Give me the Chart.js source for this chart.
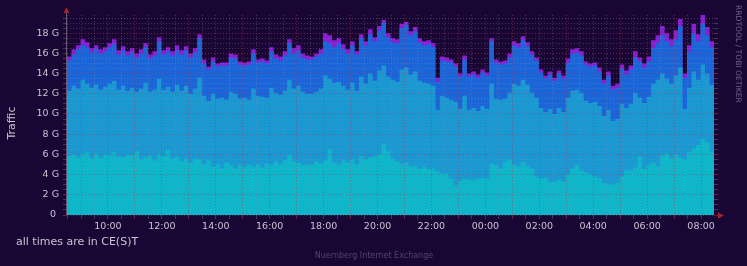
<!DOCTYPE html>
<html>
<head>
<meta charset="utf-8">
<script src="https://cdn.jsdelivr.net/npm/chart.js@4/dist/chart.umd.min.js"></script>
<style>
  html, body { margin: 0; padding: 0; background: #1a0634; }
  canvas { display: block; }
</style>
</head>
<body>
<canvas id="traffic" width="747" height="266"></canvas>
<script>
// time axis in hours (08:29 -> 08:29 next day), one value per 10 minutes
const startHour = 8.48
const endHour = 32.48
const stepHours = 1 / 6

// layer tops in G, 6 values per hour row, first row starts at 08:30
const cyanTop = [
  5.8, 6.0, 5.7, 6.1, 6.2, 5.6,
  6.1, 5.6, 6.0, 5.9, 6.2, 5.8,
  5.7, 6.0, 5.9, 6.3, 5.5, 5.7,
  5.9, 5.4, 6.0, 5.8, 6.4, 5.6,
  5.8, 5.3, 5.6, 5.2, 5.6, 5.5,
  5.0, 5.4, 4.8, 5.0, 4.6, 5.2,
  4.9, 4.6, 5.0, 4.7, 5.0, 4.8,
  5.0, 4.7, 5.1, 4.9, 5.3, 5.0,
  5.4, 6.0, 5.3, 5.2, 4.9, 5.0,
  5.0, 5.3, 5.1, 5.4, 6.5, 5.2,
  5.0, 5.4, 5.2, 5.5, 5.0, 5.8,
  5.5, 5.7, 5.8, 6.0, 7.0, 6.3,
  5.6, 5.3, 5.0, 5.2, 4.8, 4.9,
  4.6, 4.8, 4.5, 4.6, 4.3, 4.1,
  4.1, 3.6, 2.9, 3.4, 3.6, 3.5,
  3.4, 3.6, 3.7, 3.6, 5.1, 4.9,
  4.6, 5.3, 5.5, 5.0, 4.8, 5.2,
  4.8, 4.6, 3.8, 3.6, 3.7, 3.3,
  3.3, 3.5, 3.3, 4.0, 4.6, 4.9,
  4.4, 4.2, 4.0, 3.8, 3.7, 3.2,
  3.1, 3.0, 3.2, 3.8, 4.4, 4.4,
  4.7, 5.8, 4.5, 5.0, 5.2, 4.8,
  5.9, 6.1, 5.6, 6.0, 5.7, 5.5,
  6.2, 6.6, 6.9, 7.5, 7.2, 6.3
]

const skyTop = [
  12.3, 12.8, 12.5, 13.4, 13.0, 12.6,
  12.9, 12.4, 12.7, 13.0, 13.3, 12.4,
  12.8, 12.3, 12.6, 12.2, 12.5, 13.1,
  12.2, 12.4, 13.5, 12.4, 12.7, 12.2,
  12.9, 12.3, 12.8, 12.0, 12.5, 13.6,
  11.8, 11.3, 12.0, 11.5, 11.6, 11.4,
  12.2, 12.0, 11.5, 11.6, 11.4, 12.5,
  11.8, 11.7, 11.6, 12.6, 12.1, 11.9,
  12.3, 13.4, 12.5, 12.8, 12.2, 12.0,
  12.0, 12.2, 12.5, 13.8, 13.5, 13.1,
  13.2, 12.8, 12.4, 13.1, 12.3, 13.7,
  13.0, 14.0, 13.3, 14.3, 14.8, 13.7,
  13.4, 13.2, 14.4, 14.6, 13.9, 14.2,
  13.3, 13.1, 13.0, 12.8, 10.4, 11.8,
  11.6, 11.4, 11.2, 10.5, 11.8, 10.4,
  10.6, 10.3, 10.8, 10.5, 13.0, 11.5,
  11.4, 11.5, 12.1, 13.0, 12.8, 13.4,
  12.9, 12.1, 11.6, 10.6, 10.2, 10.5,
  10.0, 10.6, 10.2, 11.6, 12.3, 12.4,
  12.1, 11.3, 11.1, 11.2, 10.8, 9.8,
  10.4, 9.3, 9.5, 11.0, 10.6, 11.0,
  12.1, 11.6, 11.1, 11.7, 13.0, 13.4,
  14.0, 13.5, 13.0, 13.8, 14.6, 10.5,
  12.6, 14.2, 13.4, 14.9, 14.0, 12.9
]

const blueTop = [
  15.3, 15.9, 16.4, 16.8, 16.6, 16.1,
  16.4, 16.0, 16.2, 16.6, 16.9, 15.9,
  16.3, 15.8, 16.1, 15.6, 16.0, 16.6,
  15.5, 15.8, 17.2, 15.9, 16.2, 15.8,
  16.3, 15.9, 16.3, 15.6, 16.1, 17.5,
  15.0, 14.4, 15.2, 14.7, 14.8, 14.8,
  15.6, 15.5, 14.9, 14.8, 14.9, 16.0,
  15.1, 15.2, 15.0, 16.2, 15.5, 15.3,
  15.8, 17.0, 16.0, 16.3, 15.6, 15.4,
  15.4, 15.7, 16.0, 17.2, 17.0, 16.6,
  17.0, 16.4, 16.0, 16.8, 15.9, 17.5,
  16.8, 17.9, 17.2, 18.3, 19.0, 17.6,
  17.1, 17.0, 18.5, 18.8, 17.8, 18.2,
  17.1, 16.8, 16.9, 16.6, 13.2, 15.3,
  15.2, 15.1, 14.7, 13.7, 15.4, 13.7,
  13.9, 13.6, 14.1, 13.8, 17.2, 15.1,
  14.9, 15.0, 15.6, 16.8, 16.6, 17.3,
  16.7, 15.9, 15.3, 14.1, 13.5, 13.9,
  13.3, 14.0, 13.5, 15.1, 16.0, 16.1,
  15.8, 14.9, 14.7, 14.8, 14.2, 13.0,
  13.8, 12.4, 12.6, 14.5, 13.9, 14.4,
  15.6, 15.2, 14.6, 15.2, 16.5, 17.0,
  17.8, 17.2, 16.7, 17.4, 18.7, 13.6,
  16.2, 18.0, 17.2, 18.9, 17.8, 16.6
]

const totalTop = [
  15.7, 16.4, 16.8, 17.4, 17.1, 16.5,
  16.8, 16.4, 16.6, 17.0, 17.4, 16.3,
  16.7, 16.2, 16.5, 16.0, 16.4, 17.0,
  15.9, 16.2, 17.6, 16.3, 16.6, 16.2,
  16.8, 16.3, 16.7, 16.0, 16.5, 17.9,
  15.4, 14.7, 15.6, 15.0, 15.1, 15.1,
  16.0, 15.9, 15.2, 15.1, 15.2, 16.4,
  15.4, 15.5, 15.3, 16.6, 15.9, 15.7,
  16.2, 17.4, 16.5, 16.8, 16.0, 15.8,
  15.7, 16.0, 16.4, 18.0, 17.8, 17.3,
  17.5, 16.9, 16.4, 17.2, 16.2, 17.9,
  17.2, 18.4, 17.6, 18.7, 19.3, 18.0,
  17.5, 17.4, 18.9, 19.1, 18.2, 18.6,
  17.5, 17.2, 17.3, 17.0, 13.6, 15.7,
  15.6, 15.4, 15.0, 14.0, 15.8, 14.0,
  14.2, 13.9, 14.4, 14.1, 17.5, 15.4,
  15.2, 15.3, 16.0, 17.2, 17.0, 17.7,
  17.1, 16.2, 15.6, 14.4, 13.8, 14.2,
  13.6, 14.3, 13.8, 15.5, 16.4, 16.5,
  16.2, 15.2, 15.0, 15.1, 14.6, 13.4,
  14.2, 12.8, 13.0, 14.9, 14.3, 14.8,
  16.2, 15.6, 15.0, 15.7, 17.3, 17.8,
  18.7, 18.0, 17.4, 18.3, 19.4, 14.0,
  16.8, 18.9, 17.9, 19.8, 18.6, 17.2
]

// tick labels
const timeTickHours = [10, 12, 14, 16, 18, 20, 22, 24, 26, 28, 30, 32]
const timeTickLabels = ['10:00', '12:00', '14:00', '16:00', '18:00', '20:00',
                        '22:00', '00:00', '02:00', '04:00', '06:00', '08:00']
const trafficTickValues = [0, 2, 4, 6, 8, 10, 12, 14, 16, 18]
const trafficTickLabels = ['0 ', '2 G', '4 G', '6 G', '8 G', '10 G', '12 G', '14 G', '16 G', '18 G']

const yMax = 19.8
const RED = 'rgba(180,50,80,0.55)'
const GREY = 'rgba(150,140,170,0.35)'
const TEXT = '#c9c5d3'

function toPoints(values) {
    var pts = values.map((v, i) => ({ x: startHour + i * stepHours, y: v }))
    pts.push({ x: endHour, y: values[values.length - 1] })
    return pts
}

function layer(values, color) {
    return {
        data: toPoints(values),
        stepped: true,
        fill: 'origin',
        backgroundColor: color,
        borderColor: 'rgba(0,0,0,0)',
        borderWidth: 0,
        pointRadius: 0,
    }
}

var halfHours = []
for (var h = 8.5; h <= 32.01; h += 0.5) halfHours.push(h)
var halfGigs = []
for (var g = 0; g <= 19.51; g += 0.5) halfGigs.push(g)

const isHour = v => Math.abs(v - Math.round(v)) < 0.01
const isEvenGig = v => Math.abs(v / 2 - Math.round(v / 2)) < 0.01

const decor = {
    id: 'rrdDecor',
    beforeDraw(chart) {
        const c = chart.ctx
        c.save()
        c.fillStyle = '#1a0634'
        c.fillRect(0, 0, chart.width, chart.height)
        c.restore()
    },
    afterDraw(chart) {
        const c = chart.ctx
        const a = chart.chartArea
        c.save()
        // left axis line
        c.strokeStyle = 'rgba(110,95,120,0.9)'
        c.lineWidth = 1
        c.beginPath()
        c.moveTo(a.left - 0.5, a.top - 3)
        c.lineTo(a.left - 0.5, a.bottom)
        c.stroke()
        // arrows
        c.fillStyle = '#a3202c'
        c.beginPath()
        c.moveTo(a.left - 0.5, a.top - 8)
        c.lineTo(a.left - 3.5, a.top - 2)
        c.lineTo(a.left + 2.5, a.top - 2)
        c.closePath()
        c.fill()
        c.beginPath()
        c.moveTo(a.right + 10, a.bottom + 0.5)
        c.lineTo(a.right + 4, a.bottom - 2.5)
        c.lineTo(a.right + 4, a.bottom + 3.5)
        c.closePath()
        c.fill()

        // texts
        c.fillStyle = TEXT
        c.font = '11px "DejaVu Sans"'
        c.textBaseline = 'middle'
        c.textAlign = 'left'
        c.fillText('all times are in CE(S)T', 16, 242)

        c.save()
        c.translate(12, (a.top + a.bottom) / 2 + 8)
        c.rotate(-Math.PI / 2)
        c.textAlign = 'center'
        c.fillText('Traffic', 0, 0)
        c.restore()

        c.fillStyle = '#4f4570'
        c.font = '8px "DejaVu Sans"'
        c.textAlign = 'center'
        c.fillText('Nuernberg Internet Exchange', 374, 256)

        c.save()
        c.fillStyle = '#6d6589'
        c.translate(738, 5)
        c.rotate(Math.PI / 2)
        c.textAlign = 'left'
        c.font = '7.6px "DejaVu Sans"'
        c.fillText('RRDTOOL / TOBI OETIKER', 0, 0)
        c.restore()
        c.restore()
    }
}

const gridColor = ctx => (ctx.tick && isHour(ctx.tick.value)) ? RED : GREY
const yGridColor = ctx => (ctx.tick && isEvenGig(ctx.tick.value)) ? RED : GREY

var ctx = document.getElementById('traffic')
var chart = new Chart(ctx, {
    type: 'line',
    data: {
        datasets: [
            layer(cyanTop, '#0db7c9'),
            layer(skyTop, '#1a98d2'),
            layer(blueTop, '#1a66d9'),
            layer(totalTop, '#8a1ed4'),
        ]
    },
    options: {
        responsive: false,
        animation: false,
        parsing: false,
        layout: { padding: { left: 0, right: 29, top: 15, bottom: 0 } },
        plugins: { legend: { display: false }, tooltip: { enabled: false } },
        scales: {
            x: {
                type: 'linear',
                min: startHour,
                max: endHour,
                afterBuildTicks: s => { s.ticks = halfHours.map(v => ({ value: v })) },
                afterFit: s => { s.height = 51 },
                grid: { z: 1, color: gridColor, tickColor: gridColor, tickLength: 4, lineWidth: 1 },
                border: { display: false, dash: [1, 2] },
                ticks: {
                    autoSkip: false,
                    maxRotation: 0,
                    padding: 2,
                    color: TEXT,
                    font: { family: 'DejaVu Sans', size: 9.5 },
                    callback: v => {
                        var k = timeTickHours.findIndex(t => Math.abs(t - v) < 0.01)
                        return k >= 0 ? timeTickLabels[k] : ''
                    }
                }
            },
            y: {
                type: 'linear',
                min: 0,
                max: yMax,
                afterBuildTicks: s => { s.ticks = halfGigs.map(v => ({ value: v })) },
                afterFit: s => { s.width = 67 },
                grid: { z: 1, color: yGridColor, tickColor: yGridColor, tickLength: 4, lineWidth: 1 },
                border: { display: false, dash: [1, 2] },
                ticks: {
                    autoSkip: false,
                    padding: 4,
                    color: TEXT,
                    font: { family: 'DejaVu Sans', size: 9.5 },
                    callback: v => {
                        var k = trafficTickValues.findIndex(t => Math.abs(t - v) < 0.01)
                        return k >= 0 ? trafficTickLabels[k] : ''
                    }
                }
            },
            y2: {
                type: 'linear',
                position: 'right',
                min: 0,
                max: yMax,
                afterBuildTicks: s => { s.ticks = halfGigs.map(v => ({ value: v })) },
                afterFit: s => { s.width = 4 },
                grid: { z: 1, drawOnChartArea: false, tickColor: yGridColor, tickLength: 4 },
                border: { display: false },
                ticks: { display: false }
            }
        }
    },
    plugins: [decor]
});
</script>
</body>
</html>
